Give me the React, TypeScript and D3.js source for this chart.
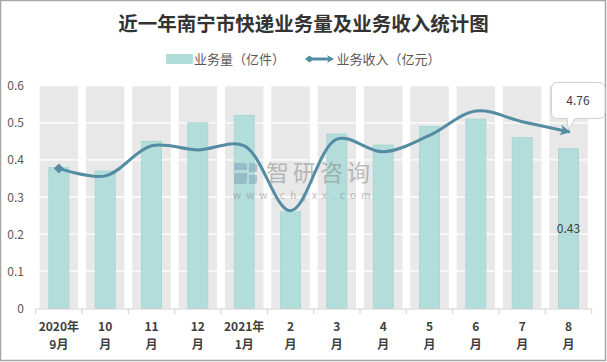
import React from "react";
import * as d3 from "d3";

const categories = ["2020年9月", "10月", "11月", "12月", "2021年1月", "2月", "3月", "4月", "5月", "6月", "7月", "8月"];
const labelTop = ["2020年", "10", "11", "12", "2021年", "2", "3", "4", "5", "6", "7", "8"];
const labelBottom = ["9月", "月", "月", "月", "1月", "月", "月", "月", "月", "月", "月", "月"];
const volume = [0.38, 0.37, 0.45, 0.50, 0.52, 0.26, 0.47, 0.44, 0.49, 0.51, 0.46, 0.43];
const revenue = [3.77, 3.57, 4.38, 4.27, 4.38, 2.63, 4.56, 4.22, 4.66, 5.32, 5.03, 4.76];
const yTicks = [0, 0.1, 0.2, 0.3, 0.4, 0.5, 0.6];

const W = 607, H = 362;
const BAR = "#b0dcd9";
const LINE = "#548ca4";
const FONT = "'Noto Sans CJK SC', 'Noto Sans', sans-serif";

export default function App() {
  const x = d3.scaleBand<string>().domain(categories).range([35.7, 591.7]).padding(0);
  const gray = d3.scaleBand<string>().domain(categories).range([35.7, 591.7]).paddingInner(0.17).paddingOuter(0.085);
  const y = d3.scaleLinear().domain([0, 0.6]).range([308.3, 85.7]);
  const y2 = d3.scaleLinear().domain([0, 6]).range([308.3, 85.7]);
  const cx = (c: string) => (x(c) as number) + x.bandwidth() / 2;
  const barW = 20;

  const pts: [number, number][] = categories.map((c, i) => [cx(c), y2(revenue[i])]);
  const lineGen = d3.line().curve(d3.curveCatmullRom.alpha(0.5));
  const path = lineGen(pts) as string;
  const first = pts[0];

  const lastCat = categories[categories.length - 1];
  const lx = cx(lastCat);

  return (
    <svg width={W} height={H} style={{ position: "absolute", left: 0, top: 0, background: "#fff" }} fontFamily={FONT}>
      <defs>
        <marker id="arrow" viewBox="0 0 10 10" refX="8" refY="5" markerWidth="3.6" markerHeight="3.6" orient="auto" markerUnits="strokeWidth">
          <path d="M0,0 L10,5 L0,10 L3,5 Z" fill={LINE} />
        </marker>
      </defs>
      <rect x={0.5} y={0.5} width={W - 2} height={H - 2} fill="#fff" stroke="#a6a6a6" strokeWidth={1.5} />
      <text x={303.5} y={30.5} textAnchor="middle" fontSize={19.5} fontWeight="bold" fill="#333333">近一年南宁市快递业务量及业务收入统计图</text>

      {/* legend */}
      <rect x={166.5} y={54.5} width={26} height={9} fill={BAR} stroke="#a6d6d2" strokeWidth={0.8} />
      <text x={194} y={63.5} fontSize={13} fill="#595959">业务量（亿件）</text>
      <line x1={307} y1={59} x2={331} y2={59} stroke={LINE} strokeWidth={3} />
      <path d={`M305,59 L309.5,55.5 L314,59 L309.5,62.5 Z`} fill={LINE} />
      <path d={`M334,59 L327,55 L329,59 L327,63 Z`} fill={LINE} />
      <text x={336.5} y={63.5} fontSize={13} fill="#595959">业务收入（亿元）</text>

      {/* gray columns */}
      {categories.map((c) => (
        <rect key={c} x={gray(c)} y={y(0.6)} width={gray.bandwidth()} height={y(0) - y(0.6)} fill="#e8e8e8" />
      ))}
      {/* gridlines */}
      {yTicks.slice(1).map((t) => (
        <line key={t} x1={35.7} x2={591.7} y1={y(t)} y2={y(t)} stroke="#ffffff" strokeWidth={1.3} />
      ))}
      {/* y labels */}
      {yTicks.map((t) => (
        <text key={t} x={24} y={y(t) + 4.5} textAnchor="end" fontSize={12} fill="#595959">{t === 0 ? "0" : t.toFixed(1)}</text>
      ))}

      {/* bars */}
      {categories.map((c, i) => (
        <rect key={c} x={cx(c) - barW / 2} y={y(volume[i])} width={barW} height={y(0) - y(volume[i])} fill={BAR} fillOpacity={0.95} stroke="#a4d4d0" strokeWidth={0.8} />
      ))}

      {/* watermark */}
      <g opacity={0.55} fill="#8c8c8c">
        <path d="M234,163 h10 a3,3 0 0 1 3,3 v4 h-13 Z" fill="#7fa3b8" />
        <path d="M234,173 h13 v8 a3,3 0 0 1 -3,3 h-10 Z" fill="#7fa3b8" />
        <path d="M249,163 h5 a3,3 0 0 1 3,3 v6 h-8 Z" fill="#7fa3b8" />
        <path d="M249,175 h8 v6 a3,3 0 0 1 -3,3 h-5 Z" fill="#7fa3b8" />
        <text x={266} y={181} fontSize={23} letterSpacing={4}>智研咨询</text>
        <text x={233} y={198.5} fontSize={10} letterSpacing={5.2}>www.chyxx.com</text>
      </g>

      {/* axis */}
      <line x1={35.7} x2={591.7} y1={309} y2={309} stroke="#d0d0d0" strokeWidth={1} />
      {d3.range(categories.length + 1).map((i) => {
        const xx = 35.7 + i * x.step();
        return <line key={i} x1={xx} x2={xx} y1={309} y2={314} stroke="#d0d0d0" strokeWidth={1} />;
      })}
      {categories.map((c, i) => (
        <g key={c}>
          <text x={cx(c)} y={330.5} textAnchor="middle" fontSize={12} fontWeight="bold" fill="#404040">{labelTop[i]}</text>
          <text x={cx(c)} y={349} textAnchor="middle" fontSize={12} fontWeight="bold" fill="#404040">{labelBottom[i]}</text>
        </g>
      ))}

      {/* revenue line */}
      <path d={path} fill="none" stroke={LINE} strokeWidth={3} strokeLinecap="round" markerEnd="url(#arrow)" />
      <path d={`M${first[0] - 5},${first[1]} L${first[0]},${first[1] - 5} L${first[0] + 5},${first[1]} L${first[0]},${first[1] + 5} Z`} fill={LINE} />

      {/* callout */}
      <path d={`M557.5,82.5 L599,82.5 Q605,82.5 605,88.5 L605,112.5 Q605,118.5 599,118.5 L575,118.5 L${lx},130 L567,118.5 L557.5,118.5 Q551.5,118.5 551.5,112.5 L551.5,88.5 Q551.5,82.5 557.5,82.5 Z`} fill="#fff" stroke="#cfcfcf" strokeWidth={1} />
      <text x={578} y={104.5} textAnchor="middle" fontSize={12} fill="#404040">{revenue[revenue.length - 1].toFixed(2)}</text>
      <text x={lx} y={232.5} textAnchor="middle" fontSize={12} fill="#404040">{volume[volume.length - 1].toFixed(2)}</text>
    </svg>
  );
}
